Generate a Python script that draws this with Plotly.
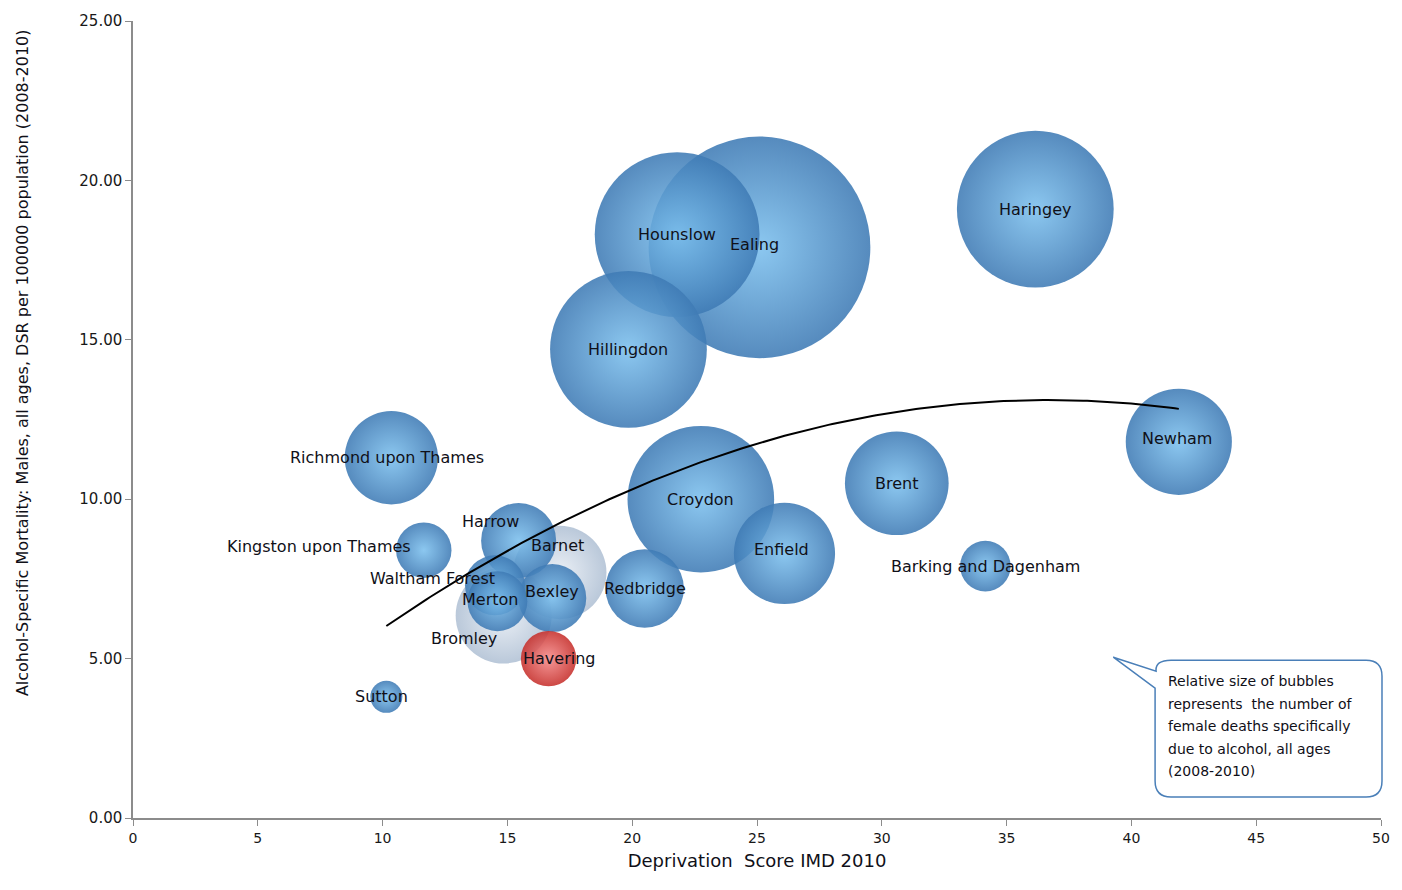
import numpy as np
import plotly.graph_objects as go

# London boroughs: deprivation score vs male alcohol-specific mortality,
# bubble area = female alcohol-specific deaths
boroughs = ["Ealing", "Hounslow", "Haringey", "Hillingdon", "Croydon", "Newham",
            "Brent", "Enfield", "Bromley", "Barnet", "Richmond upon Thames",
            "Redbridge", "Harrow", "Bexley", "Waltham Forest", "Merton",
            "Havering", "Kingston upon Thames", "Barking and Dagenham", "Sutton"]
imd_score = [25.1, 21.8, 36.15, 19.85, 22.75, 41.9,
             30.6, 26.1, 14.85, 17.1, 10.35,
             20.5, 15.45, 16.8, 14.5, 14.6,
             16.65, 11.65, 34.15, 10.15]
male_dsr = [17.9, 18.3, 19.1, 14.7, 10.0, 11.8,
            10.5, 8.3, 6.35, 7.7, 11.3,
            7.2, 8.7, 6.9, 7.3, 6.8,
            5.0, 8.4, 7.9, 3.8]
female_deaths = [96, 53, 48, 48, 42, 22,
                 21, 20, 18, 17, 17,
                 12, 11, 9, 7, 7,
                 6, 6, 5, 2]

x_ticks = [0, 5, 10, 15, 20, 25, 30, 35, 40, 45, 50]
y_ticks = [0, 5, 10, 15, 20, 25]

# figure geometry (pixels)
W, H = 1402, 890
ML, MR, MT, MB = 133, 15, 20, 72
PW, PH = W - ML - MR, H - MT - MB


def px(xp):
    return (xp - ML) / PW


def py(yp):
    return (H - MB - yp) / PH


# per-bubble styling: (rim colour, centre highlight)
blue = ("#3f7bb5", "#7cc0ee")
pale = ("#9fb3cb", "#e2e9f2")
red = ("#c62f2b", "#f58a8a")
style = {"Bromley": pale, "Barnet": pale, "Havering": red}
rim_c = [style.get(b, blue)[0] for b in boroughs]
core_c = [style.get(b, blue)[1] for b in boroughs]
alpha = [0.72 if b in ("Bromley", "Barnet") else 0.88 for b in boroughs]

# label offsets in pixels (dx right, dy up) for labels moved off centre
label_shift = {
    "Kingston upon Thames": (-105, 4), "Harrow": (-28, 19), "Barnet": (-2, 27),
    "Waltham Forest": (-62, 7), "Merton": (-7, 2), "Bromley": (-40, -23),
    "Havering": (10, 0), "Bexley": (0, 7), "Ealing": (-5, 3),
    "Sutton": (-5, 0), "Richmond upon Thames": (-4, 0),
    "Enfield": (-3, 4), "Newham": (-2, 3),
}

fig = go.Figure()

fig.add_trace(go.Scatter(
    x=imd_score, y=male_dsr, mode="markers",
    marker=dict(size=female_deaths, sizemode="area", sizeref=1 / 256,
                color=rim_c, opacity=alpha, line=dict(width=0),
                gradient=dict(type="radial", color=core_c)),
    hoverinfo="text", text=boroughs, showlegend=False,
))

# second-order polynomial trendline
coef = np.polyfit(imd_score, male_dsr, 2)
tx = np.linspace(min(imd_score), max(imd_score), 200)
fig.add_trace(go.Scatter(x=tx, y=np.polyval(coef, tx), mode="lines",
                         line=dict(color="black", width=2),
                         hoverinfo="skip", showlegend=False))

label_font = dict(family="DejaVu Sans", size=16, color="#101018")
for b, xv, yv in zip(boroughs, imd_score, male_dsr):
    dx, dy = label_shift.get(b, (0, 0))
    fig.add_annotation(x=xv, y=yv, text=b, showarrow=False, xshift=dx, yshift=dy,
                       xanchor="center", yanchor="middle", font=label_font)

# callout box with pointer
L, R, T, B, rr = 1160, 1388, 660, 797, 16
tip = (1118, 657)
path = (f"M {px(L + rr)} {py(T)} H {px(R - rr)} Q {px(R)} {py(T)} {px(R)} {py(T + rr)} "
        f"V {py(B - rr)} Q {px(R)} {py(B)} {px(R - rr)} {py(B)} "
        f"H {px(L + rr)} Q {px(L)} {py(B)} {px(L)} {py(B - rr)} "
        f"V {py(688)} L {px(tip[0])} {py(tip[1])} L {px(L + 1)} {py(671)} "
        f"Q {px(L)} {py(T)} {px(L + rr)} {py(T)} Z")
fig.add_shape(type="path", path=path, xref="paper", yref="paper",
              line=dict(color="#4a7fb8", width=1.5), fillcolor="white")

callout = ["Relative size of bubbles", "represents  the number of",
           "female deaths specifically", "due to alcohol, all ages", "(2008-2010)"]
for i, line in enumerate(callout):
    fig.add_annotation(x=px(1171), y=py(681 + i * 22.5), xref="paper", yref="paper",
                       text=line, showarrow=False, xanchor="left", yanchor="middle",
                       font=dict(family="DejaVu Sans", size=14, color="#101018"))

# y-axis title
fig.add_annotation(x=px(22), y=py(362), xref="paper", yref="paper",
                   text="Alcohol-Specific Mortality: Males, all ages, DSR per 100000 population (2008-2010)",
                   textangle=-90, showarrow=False, xanchor="center", yanchor="middle",
                   font=dict(family="DejaVu Sans", size=16, color="#101018"))

axis_common = dict(showgrid=False, zeroline=False, showline=True, linecolor="#8c8c8c",
                   linewidth=1.5, ticks="outside", ticklen=6, tickcolor="#8c8c8c")
fig.update_xaxes(range=[0, 50], tickvals=x_ticks, ticktext=[str(v) for v in x_ticks],
                 tickfont=dict(family="DejaVu Sans", size=14, color="#181818"),
                 title=dict(text="Deprivation  Score IMD 2010", standoff=10,
                            font=dict(family="DejaVu Sans", size=18, color="#101018")),
                 **axis_common)
fig.update_yaxes(range=[0, 25], tickvals=y_ticks, ticktext=[f"{v:.2f}" for v in y_ticks],
                 tickfont=dict(family="DejaVu Sans", size=15, color="#181818"),
                 **axis_common)

fig.update_layout(width=W, height=H, margin=dict(l=ML, r=MR, t=MT, b=MB),
                  paper_bgcolor="white", plot_bgcolor="white")

fig.write_html("out.html")
